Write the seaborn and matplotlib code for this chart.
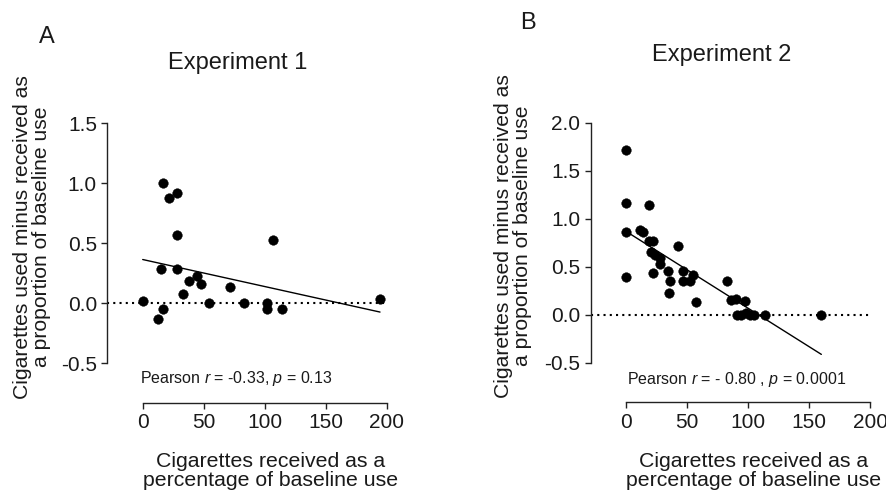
import numpy as np
import pandas as pd
import matplotlib
matplotlib.use("Agg")
import matplotlib.pyplot as plt
import seaborn as sns

# ---- data ----
exp1_x = [0, 12.8, 14.7, 16.9, 16.9, 21.8, 28.4, 28.4, 28.4, 32.8, 37.7, 44.8, 47.8,
          54.6, 71.6, 83.3, 102.2, 102.0, 106.9, 114.2, 194.5]
exp1_y = [0.02, -0.13, 0.29, 1.00, -0.05, 0.88, 0.92, 0.57, 0.29, 0.08, 0.19, 0.225, 0.16,
          0.0, 0.14, 0.0, 0.0, -0.05, 0.53, -0.05, 0.035]

exp2_x = [0, 0, 0, 0, 19.1, 11.7, 13.6, 18.6, 21.8, 20.7, 24.0, 28.1, 28.1, 21.8, 34.4,
          35.7, 35.5, 42.6, 46.4, 46.4, 52.1, 54.8, 57.6, 82.7, 85.9, 90.0, 97.1,
          90.9, 94.4, 98.2, 101.7, 104.5, 113.5, 160.0]
exp2_y = [1.72, 1.16, 0.86, 0.39, 1.14, 0.88, 0.86, 0.77, 0.77, 0.65, 0.62, 0.59, 0.53, 0.44,
          0.46, 0.35, 0.23, 0.72, 0.46, 0.35, 0.35, 0.41, 0.13, 0.35, 0.15, 0.17, 0.14,
          0.0, 0.0, 0.02, 0.0, 0.0, 0.0, 0.0]

titles = ["Experiment 1", "Experiment 2"]
letters = ["A", "B"]
stats = [r"Pearson $\it{r}$ = -0.33, $\it{p}$ = 0.13",
         r"Pearson $\it{r}$ = - 0.80 , $\it{p}$ = 0.0001"]
xticks = [0, 50, 100, 150, 200]
yticks_list = [[-0.5, 0.0, 0.5, 1.0, 1.5], [-0.5, 0.0, 0.5, 1.0, 1.5, 2.0]]
ylims = [(-0.5, 1.5), (-0.5, 2.0)]
ylabel = "Cigarettes used minus received as\na proportion of baseline use"
xlabel = "Cigarettes received as a\npercentage of baseline use"

sns.set_style("ticks")
plt.rcParams['font.family'] = ['Liberation Sans', 'DejaVu Sans']
plt.rcParams['mathtext.fontset'] = 'custom'
plt.rcParams['mathtext.rm'] = 'Liberation Sans'
plt.rcParams['mathtext.it'] = 'Liberation Sans:italic'
plt.rcParams['text.color'] = '#1a1a1a'
plt.rcParams['axes.labelcolor'] = '#1a1a1a'
plt.rcParams['xtick.color'] = '#1a1a1a'
plt.rcParams['ytick.color'] = '#1a1a1a'

fig = plt.figure(figsize=(8.87, 4.93), dpi=100)
axA = fig.add_axes([0.121, 0.263, 0.315, 0.487])
axB = fig.add_axes([0.666, 0.264, 0.315, 0.487])

datasets = [pd.DataFrame({"x": exp1_x, "y": exp1_y}), pd.DataFrame({"x": exp2_x, "y": exp2_y})]
title_pos = [(0.468, 1.251), (0.469, 1.282)]
stat_pos = [(0.117, -0.065), (0.129, -0.068)]
ylab_pos = [(-0.27, 0.526), (-0.278, 0.528)]
xlab_pos = [(0.586, -0.45), (0.581, -0.45)]
letter_pos = [(47 / 887, 1 - 37 / 493), (528 / 887, 1 - 23 / 493)]

for i, ax in enumerate([axA, axB]):
    df = datasets[i]
    ax.axhline(0, color="black", linestyle=(0, (1, 2.0)), linewidth=1.5, zorder=1)
    sns.regplot(data=df, x="x", y="y", ax=ax, scatter=False, ci=None, truncate=True,
                line_kws=dict(color="black", linewidth=1.0))
    sns.scatterplot(data=df, x="x", y="y", ax=ax, color="black", s=48,
                    edgecolor="black", linewidth=0.3, zorder=3)
    ax.set_xlim(-29, 200)
    ax.set_ylim(*ylims[i])
    ax.set_xticks(xticks)
    ax.set_yticks(yticks_list[i])
    ax.set_yticklabels([f"{v:.1f}" for v in yticks_list[i]])
    for s in ["top", "right"]:
        ax.spines[s].set_visible(False)
    ax.spines["bottom"].set_position(("outward", 28.5))
    ax.spines["bottom"].set_bounds(0, 200)
    ax.spines["left"].set_bounds(*ylims[i])
    for s in ["bottom", "left"]:
        ax.spines[s].set_linewidth(1.0)
        ax.spines[s].set_color("#222222")
    ax.tick_params(axis="both", direction="out", length=4.5, width=1.0,
                   color="#222222", labelsize=15, pad=3)
    ax.set_xlabel(xlabel, fontsize=15.3, linespacing=1.0)
    ax.xaxis.set_label_coords(*xlab_pos[i])
    ax.xaxis.label.set_va("center")
    ax.set_ylabel(ylabel, fontsize=15.2, linespacing=1.0)
    ax.yaxis.set_label_coords(*ylab_pos[i])
    ax.yaxis.label.set_va("center")
    ax.text(*title_pos[i], titles[i], transform=ax.transAxes, ha="center", va="center",
            fontsize=17)
    ax.text(*stat_pos[i], stats[i], transform=ax.transAxes, ha="left", va="center",
            fontsize=11.5)
    fig.text(*letter_pos[i], letters[i], ha="center", va="center", fontsize=17)

fig.savefig("out.png", dpi=100)
